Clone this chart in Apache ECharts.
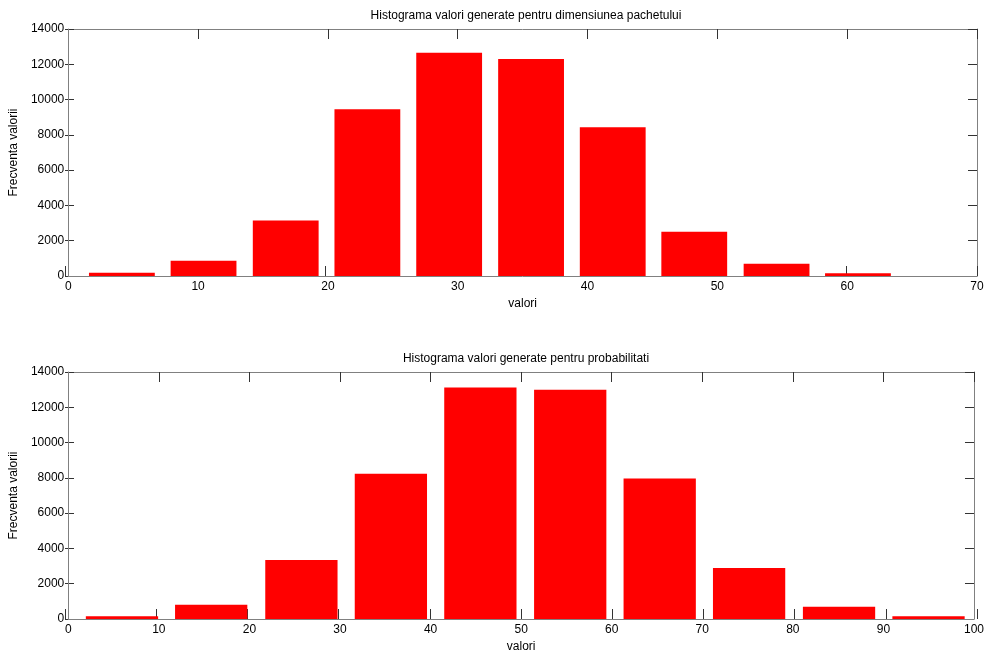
<!DOCTYPE html>
<html>
<head>
<meta charset="utf-8">
<script src="https://cdn.jsdelivr.net/npm/echarts@6/dist/echarts.min.js"></script>
<style>
html,body{margin:0;padding:0;background:#fff;}
#chart{width:987px;height:658px;}
</style>
</head>
<body>
<div id="chart"></div>
<script>
// ---- data ----
const titleTop = 'Histograma valori generate pentru dimensiunea pachetului';
const titleBottom = 'Histograma valori generate pentru probabilitati';
const yLabel = 'Frecventa valorii';
const xLabel = 'valori';

const centersTop = [4.13, 10.42, 16.75, 23.04, 29.34, 35.65, 41.94, 48.22, 54.56, 60.83];
const countsTop  = [180, 860, 3150, 9450, 12650, 12300, 8430, 2510, 700, 150];

const centersBottom = [5.93, 15.78, 25.74, 35.62, 45.50, 55.42, 65.30, 75.17, 85.10, 94.98];
const countsBottom  = [150, 810, 3350, 8230, 13120, 13000, 7970, 2890, 700, 150];

const xTicksTop = [0, 70, 10];     // min, max, interval
const xTicksBottom = [0, 100, 10];
const yTicks = [0, 14000, 2000];

// ---- styling / sizes ----
const barWidthTop = 5.07;     // in x units
const barWidthBottom = 7.98;
const FONT = '"Liberation Sans", Arial, sans-serif';
const frameColor = '#808080';
const tickColor = '#333';

const chart = echarts.init(document.getElementById('chart'), null, {renderer: 'canvas'});

function makeRender(w) {
  return function (params, api) {
    const c = api.value(0), v = api.value(1);
    const p0 = api.coord([c - w / 2, v]);
    const p1 = api.coord([c + w / 2, 0]);
    return {
      type: 'rect',
      shape: {x: p0[0], y: p0[1], width: p1[0] - p0[0], height: p1[1] - p0[1]},
      style: {fill: '#ff0000'}
    };
  };
}

function xAxisMain(gi, t) {
  return {
    type: 'value', gridIndex: gi, position: 'bottom',
    min: t[0], max: t[1], interval: t[2],
    name: xLabel, nameLocation: 'middle', nameGap: 22,
    nameTextStyle: {color: '#000', fontSize: 12, fontFamily: FONT},
    axisLine: {show: true, onZero: false, lineStyle: {color: frameColor, width: 1}},
    axisTick: {show: false},
    axisLabel: {color: '#000', fontSize: 12, fontFamily: FONT, margin: 5, formatter: v => String(v)},
    splitLine: {show: false},
    z: 3
  };
}
function xAxisTick(gi, t, pos, line) {
  return {
    type: 'value', gridIndex: gi, position: pos,
    min: t[0], max: t[1], interval: t[2],
    axisLine: {show: line, onZero: false, lineStyle: {color: frameColor, width: 1}},
    axisTick: {show: true, inside: true, length: 10, lineStyle: {color: tickColor}},
    axisLabel: {show: false},
    splitLine: {show: false},
    z: 0
  };
}
function yAxisMain(gi) {
  return {
    type: 'value', gridIndex: gi, position: 'left',
    min: yTicks[0], max: yTicks[1], interval: yTicks[2],
    name: yLabel, nameLocation: 'middle', nameGap: 41,
    nameTextStyle: {color: '#000', fontSize: 12, fontFamily: FONT},
    axisLine: {show: true, onZero: false, lineStyle: {color: frameColor, width: 1}},
    axisTick: {show: false},
    axisLabel: {color: '#000', fontSize: 12, fontFamily: FONT, margin: 4, formatter: v => String(v)},
    splitLine: {show: false},
    z: 3
  };
}
function yAxisTick(gi, pos, line) {
  return {
    type: 'value', gridIndex: gi, position: pos,
    min: yTicks[0], max: yTicks[1], interval: yTicks[2],
    axisLine: {show: line, onZero: false, lineStyle: {color: frameColor, width: 1}},
    axisTick: {show: true, inside: true, length: 9, lineStyle: {color: tickColor}},
    axisLabel: {show: false},
    splitLine: {show: false},
    z: 0
  };
}

const gridTop = {left: 65, right: 10, top: 29, height: 247, containLabel: false};
const gridBottom = {left: 65, right: 10, top: 372, height: 247, containLabel: false};

const option = {
  backgroundColor: '#fff',
  animation: false,
  title: [
    {text: titleTop, left: 521, top: 5, textAlign: 'center',
     textStyle: {color: '#000', fontSize: 12, fontWeight: 'normal', fontFamily: FONT}},
    {text: titleBottom, left: 521, top: 348, textAlign: 'center',
     textStyle: {color: '#000', fontSize: 12, fontWeight: 'normal', fontFamily: FONT}}
  ],
  grid: [gridTop, gridBottom, Object.assign({}, gridTop), Object.assign({}, gridBottom)],
  xAxis: [
    xAxisMain(0, xTicksTop), xAxisTick(0, xTicksTop, 'top', true),
    xAxisMain(1, xTicksBottom), xAxisTick(1, xTicksBottom, 'top', true),
    xAxisTick(2, xTicksTop, 'bottom', false), xAxisTick(3, xTicksBottom, 'bottom', false)
  ],
  yAxis: [
    yAxisMain(0), yAxisTick(0, 'right', true),
    yAxisMain(1), yAxisTick(1, 'right', true),
    yAxisTick(2, 'left', false), yAxisTick(3, 'left', false)
  ],
  series: [
    {
      type: 'custom', xAxisIndex: 0, yAxisIndex: 0, z: 2,
      renderItem: makeRender(barWidthTop),
      encode: {x: 0, y: 1},
      data: centersTop.map((c, i) => [c, countsTop[i]])
    },
    {
      type: 'custom', xAxisIndex: 2, yAxisIndex: 2, z: 2,
      renderItem: makeRender(barWidthBottom),
      encode: {x: 0, y: 1},
      data: centersBottom.map((c, i) => [c, countsBottom[i]])
    }
  ]
};
chart.setOption(option);
</script>
</body>
</html>
